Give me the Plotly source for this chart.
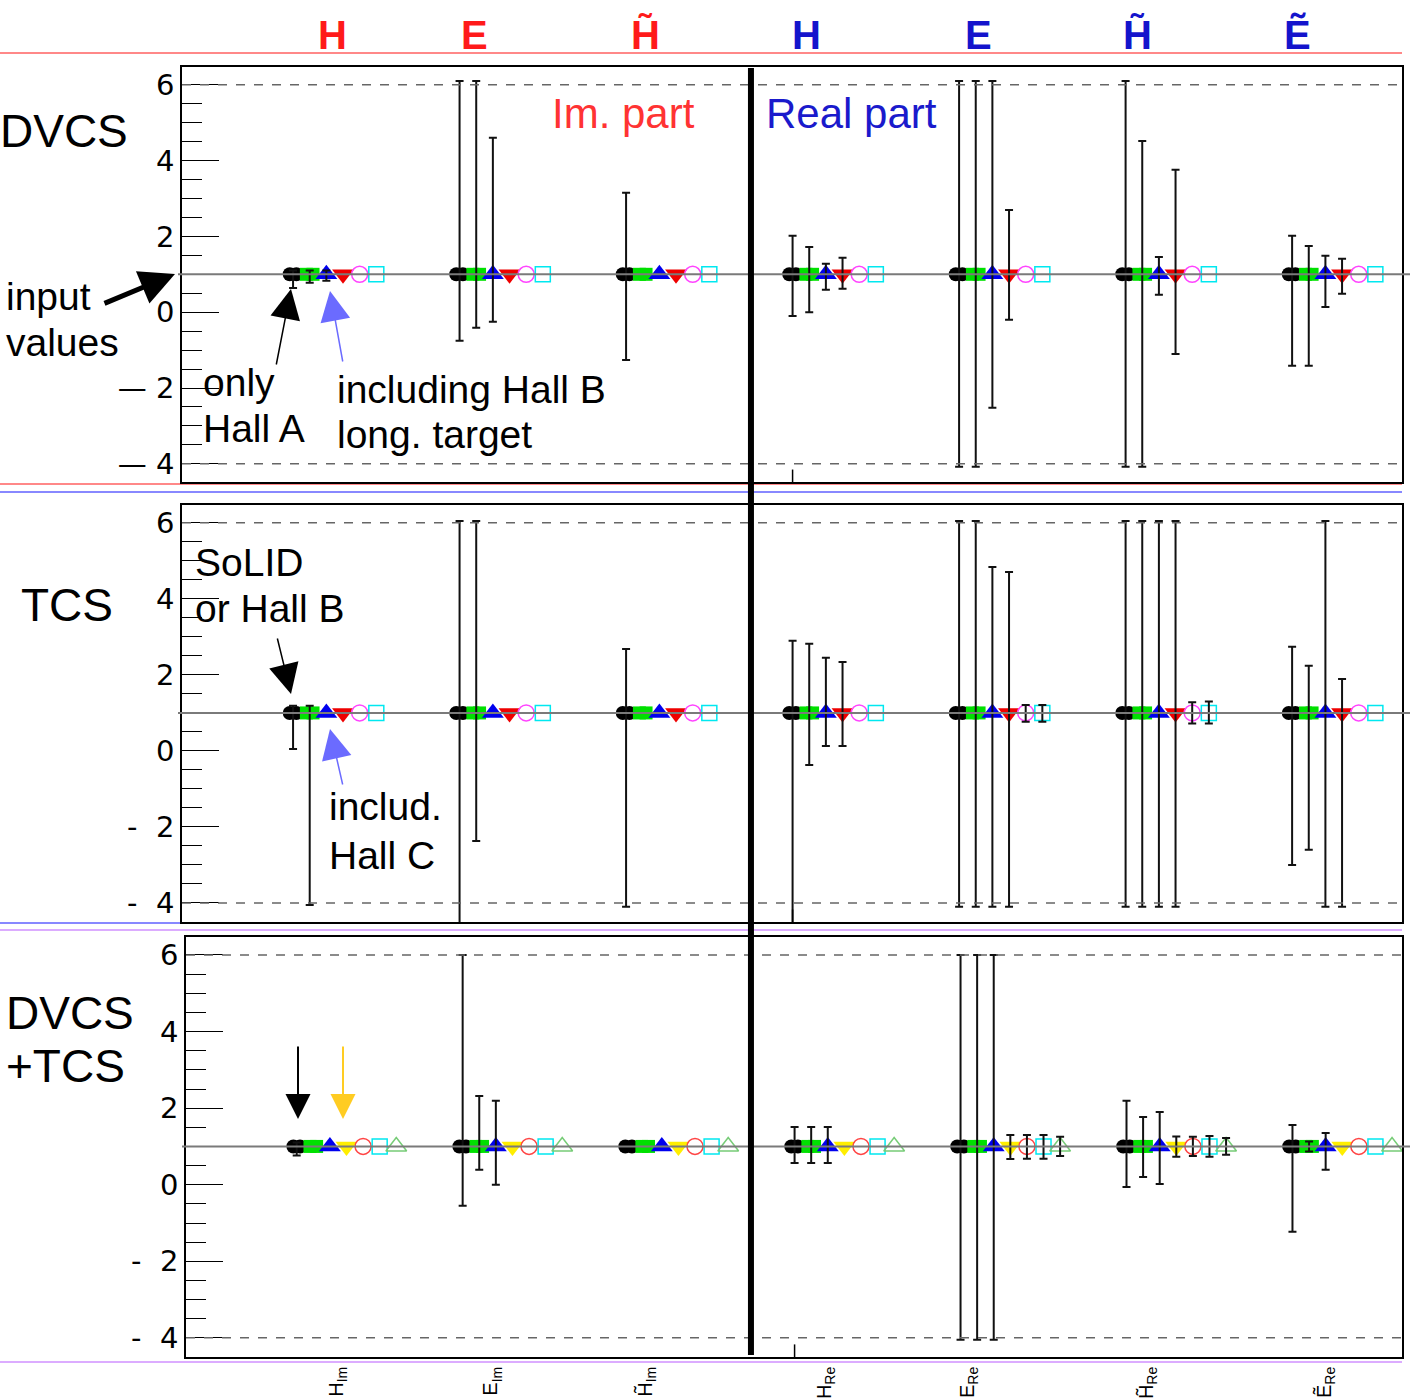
import plotly.graph_objects as go

W, H = 1410, 1398

# ---------------- data ----------------
categories = ["H_Im", "E_Im", "H~_Im", "H_Re", "E_Re", "H~_Re", "E~_Re"]
tick_labels = ["H<sub>Im</sub>", "E<sub>Im</sub>", "H\u0303<sub>Im</sub>",
               "H<sub>Re</sub>", "E<sub>Re</sub>", "H\u0303<sub>Re</sub>", "\u1EBC<sub>Re</sub>"]
tick_positions = [0.24, 1.17, 2.10, 3.18, 4.04, 5.12, 6.19]
input_value = 1.0
fit_center = [1.0, 1.0, 1.0, 1.0, 1.0, 1.0, 1.0]

# DVCS panel: upper / lower errors per category
dvcs_black_up = [0.10, 5.10, 2.15, 1.02, 5.10, 5.10, 1.02]
dvcs_black_dn = [0.36, 1.75, 2.26, 1.10, 5.08, 5.08, 2.41]
dvcs_green_up = [0.10, 5.10, 0.00, 0.72, 5.10, 3.52, 0.75]
dvcs_green_dn = [0.22, 1.41, 0.00, 1.00, 5.08, 5.08, 2.41]
dvcs_blue_up = [0.10, 3.60, 0.00, 0.28, 5.10, 0.46, 0.49]
dvcs_blue_dn = [0.17, 1.25, 0.00, 0.41, 3.52, 0.54, 0.86]
dvcs_red_up = [0.00, 0.00, 0.00, 0.44, 1.70, 2.76, 0.41]
dvcs_red_dn = [0.00, 0.00, 0.00, 0.38, 1.20, 2.10, 0.51]
dvcs_magenta_up = [0, 0, 0, 0, 0, 0, 0]
dvcs_magenta_dn = [0, 0, 0, 0, 0, 0, 0]
dvcs_cyan_up = [0, 0, 0, 0, 0, 0, 0]
dvcs_cyan_dn = [0, 0, 0, 0, 0, 0, 0]

# TCS panel
tcs_black_up = [0.19, 5.05, 1.68, 1.90, 5.05, 5.05, 1.74]
tcs_black_dn = [0.95, 5.60, 5.10, 5.60, 5.10, 5.10, 4.00]
tcs_green_up = [0.19, 5.05, 0.00, 1.82, 5.05, 5.05, 1.24]
tcs_green_dn = [5.05, 3.37, 0.00, 1.37, 5.10, 5.10, 3.60]
tcs_blue_up = [0.00, 0.00, 0.00, 1.45, 3.84, 5.05, 5.05]
tcs_blue_dn = [0.00, 0.00, 0.00, 0.87, 5.10, 5.10, 5.10]
tcs_red_up = [0.00, 0.00, 0.00, 1.34, 3.71, 5.05, 0.89]
tcs_red_dn = [0.00, 0.00, 0.00, 0.87, 5.10, 5.10, 5.10]
tcs_magenta_up = [0, 0, 0, 0, 0.21, 0.28, 0]
tcs_magenta_dn = [0, 0, 0, 0, 0.23, 0.28, 0]
tcs_cyan_up = [0, 0, 0, 0, 0.21, 0.30, 0]
tcs_cyan_dn = [0, 0, 0, 0, 0.23, 0.28, 0]

# DVCS+TCS panel
comb_black_up = [0.10, 5.00, 0.00, 0.51, 5.00, 1.19, 0.56]
comb_black_dn = [0.24, 1.55, 0.00, 0.43, 5.05, 1.06, 2.23]
comb_green_up = [0.00, 1.32, 0.00, 0.51, 5.00, 0.77, 0.13]
comb_green_dn = [0.00, 0.61, 0.00, 0.43, 5.05, 0.80, 0.13]
comb_blue_up = [0.00, 1.19, 0.00, 0.51, 5.00, 0.90, 0.35]
comb_blue_dn = [0.00, 1.00, 0.00, 0.43, 5.05, 0.98, 0.61]
comb_yellow_up = [0, 0, 0, 0, 0.30, 0.26, 0]
comb_yellow_dn = [0, 0, 0, 0, 0.33, 0.27, 0]
comb_ring_up = [0, 0, 0, 0, 0.30, 0.25, 0]
comb_ring_dn = [0, 0, 0, 0, 0.32, 0.25, 0]
comb_cyan_up = [0, 0, 0, 0, 0.30, 0.27, 0]
comb_cyan_dn = [0, 0, 0, 0, 0.32, 0.27, 0]
comb_tri_up = [0, 0, 0, 0, 0.25, 0.22, 0]
comb_tri_dn = [0, 0, 0, 0, 0.25, 0.22, 0]

# ---------------- styles ----------------
# "wide": marker drawn twice, slightly shifted, to get the elongated look
STY = {
    "black": dict(symbol="circle", color="black", size=14, wide=True),
    "green": dict(symbol="square", color="#00e000", size=13, wide=True),
    "blue": dict(symbol="triangle-up", color="#0000ee", size=19),
    "red": dict(symbol="triangle-down", color="#ee0000", size=19),
    "yellow": dict(symbol="triangle-down", color="#ffee00", size=19),
    "magenta": dict(symbol="circle-open", color="#ff44ff", size=16, line=dict(width=1.5, color="#ff44ff")),
    "cyan": dict(symbol="square-open", color="#00e8f0", size=15, line=dict(width=1.5, color="#00e8f0")),
    "ring": dict(symbol="circle-open", color="#ff4444", size=16, line=dict(width=1.5, color="#ff4444")),
    "tri": dict(symbol="triangle-up-open", color="#77cc77", size=18, line=dict(width=1.5, color="#77cc77")),
}

panels = [
    [("black", dvcs_black_up, dvcs_black_dn), ("green", dvcs_green_up, dvcs_green_dn),
     ("blue", dvcs_blue_up, dvcs_blue_dn), ("red", dvcs_red_up, dvcs_red_dn),
     ("magenta", dvcs_magenta_up, dvcs_magenta_dn), ("cyan", dvcs_cyan_up, dvcs_cyan_dn)],
    [("black", tcs_black_up, tcs_black_dn), ("green", tcs_green_up, tcs_green_dn),
     ("blue", tcs_blue_up, tcs_blue_dn), ("red", tcs_red_up, tcs_red_dn),
     ("magenta", tcs_magenta_up, tcs_magenta_dn), ("cyan", tcs_cyan_up, tcs_cyan_dn)],
    [("black", comb_black_up, comb_black_dn), ("green", comb_green_up, comb_green_dn),
     ("blue", comb_blue_up, comb_blue_dn), ("yellow", comb_yellow_up, comb_yellow_dn),
     ("ring", comb_ring_up, comb_ring_dn), ("cyan", comb_cyan_up, comb_cyan_dn),
     ("tri", comb_tri_up, comb_tri_dn)],
]

def px(x):
    return x / W

def py(y):
    return 1 - y / H

panel_px = [  # left, right, top, bottom (pixels) of each frame
    (182, 1402, 67, 482),
    (182, 1402, 505, 922),
    (186, 1402, 937, 1357),
]
yranges = [[-4.48, 6.47], [-4.5, 6.47], [-4.5, 6.47]]
xrange_ = [-0.667, 6.66]
STEP = 0.1
WIDEN = 0.02

fig = go.Figure()

for p, series in enumerate(panels):
    xa = "x" if p == 0 else f"x{p+1}"
    ya = "y" if p == 0 else f"y{p+1}"
    for k, (name, up, dn) in enumerate(series):
        xs = [i + STEP * k for i in range(len(categories))]
        st = STY[name]
        mk = dict(symbol=st["symbol"], color=st["color"], size=st["size"])
        mk["line"] = st.get("line", dict(width=0))
        shifts = [-WIDEN, WIDEN] if st.get("wide") else [0.0]
        for s in shifts:
            fig.add_trace(go.Scatter(
                x=[x + s for x in xs], y=fit_center, mode="markers", marker=mk,
                xaxis=xa, yaxis=ya, showlegend=False, name=name, hoverinfo="skip"))
        # error bars only where present
        idx = [i for i in range(len(categories)) if up[i] + dn[i] > 0]
        if idx:
            fig.add_trace(go.Scatter(
                x=[xs[i] for i in idx], y=[fit_center[i] for i in idx],
                mode="markers", marker=dict(size=1, opacity=0),
                error_y=dict(type="data", symmetric=False,
                             array=[up[i] for i in idx], arrayminus=[dn[i] for i in idx],
                             color="#111111", thickness=2, width=4),
                xaxis=xa, yaxis=ya, showlegend=False, hoverinfo="skip"))

layout = dict(width=W, height=H, margin=dict(l=0, r=0, t=0, b=0, autoexpand=False),
              paper_bgcolor="white", plot_bgcolor="white", autosize=False,
              font=dict(family="Liberation Sans", color="black"))

for p, (l, r, t, b) in enumerate(panel_px):
    xk = "xaxis" if p == 0 else f"xaxis{p+1}"
    yk = "yaxis" if p == 0 else f"yaxis{p+1}"
    ya = "y" if p == 0 else f"y{p+1}"
    xa = "x" if p == 0 else f"x{p+1}"
    last = (p == 2)
    layout[xk] = dict(domain=[px(l), px(r)], range=xrange_, anchor=ya, automargin=False,
                      showgrid=False, zeroline=False, showline=True, mirror=True,
                      linecolor="black", linewidth=1.5, ticks="",
                      tickmode="array", tickvals=tick_positions if last else [],
                      ticktext=tick_labels if last else [],
                      showticklabels=last, tickangle=-90,
                      tickfont=dict(family="Liberation Sans", size=20, color="black"))
    dash = "— " if p == 0 else "-  "
    layout[yk] = dict(domain=[py(b), py(t)], range=yranges[p], anchor=xa, automargin=False,
                      showgrid=False, zeroline=False, showline=True, mirror=True,
                      linecolor="black", linewidth=1.5,
                      ticks="inside", ticklen=37, tickwidth=1.2, tickcolor="black",
                      tickmode="array", tickvals=[-4, -2, 0, 2, 4, 6],
                      ticktext=[dash + "4", dash + "2", "0", "2", "4", "6"],
                      tickfont=dict(family="DejaVu Sans", size=29, color="black"),
                      minor=dict(ticks="inside", ticklen=20, tickwidth=1.2,
                                 tickcolor="black", dtick=0.5, tick0=0, showgrid=False))

shapes = []
# pad borders (horizontal edges)
for (y0, y1, col) in [(53, 484, "#ff6060"), (492, 923, "#6060ff"), (930, 1362, "#d090ff")]:
    for yy in (y0, y1):
        shapes.append(dict(type="line", xref="paper", yref="paper", x0=0, x1=px(1402),
                           y0=py(yy), y1=py(yy), line=dict(color=col, width=1.5), layer="below"))
for p, (l, r, t, b) in enumerate(panel_px):
    ya = "y" if p == 0 else f"y{p+1}"
    xa = "x" if p == 0 else f"x{p+1}"
    for yv in (6, -4):
        shapes.append(dict(type="line", xref=f"{xa} domain", yref=ya, x0=0, x1=1,
                           y0=yv, y1=yv, line=dict(color="#666666", width=1.5, dash="dash")))
    shapes.append(dict(type="line", xref="paper", yref=ya, x0=px(l - 4), x1=1,
                       y0=input_value, y1=input_value,
                       line=dict(color="#7a7a7a", width=2), layer="above"))
    shapes.append(dict(type="line", xref=xa, yref=f"{ya} domain", x0=3, x1=3,
                       y0=0, y1=0.03, line=dict(color="black", width=1.5)))
# separator between imaginary and real parts
shapes.append(dict(type="line", xref="x", yref="paper", x0=2.75, x1=2.75,
                   y0=py(1355), y1=py(68), line=dict(color="black", width=6)))
layout["shapes"] = shapes

ann = []

def txt(s, x, y, size, color="black", xanchor="left"):
    ann.append(dict(text=s, x=px(x), y=py(y), xref="paper", yref="paper",
                    xanchor=xanchor, yanchor="middle", showarrow=False,
                    font=dict(family="Liberation Sans", size=size, color=color)))

def arrow(tx, ty, sx, sy, color, width, size):
    ann.append(dict(text="", x=px(tx), y=py(ty), xref="paper", yref="paper",
                    ax=sx - tx, ay=sy - ty, axref="pixel", ayref="pixel",
                    showarrow=True, arrowhead=2, arrowwidth=width, arrowsize=size,
                    arrowcolor=color, standoff=0))

RED, BLUE = "#ff1a1a", "#1414cc"
for s, x in [("H", 332), ("E", 474), ("H\u0303", 645)]:
    txt("<b>" + s + "</b>", x, 35, 40, RED, "center")
for s, x in [("H", 806), ("E", 978), ("H\u0303", 1137), ("\u1EBC", 1297)]:
    txt("<b>" + s + "</b>", x, 35, 40, BLUE, "center")

txt("DVCS", -2, 131, 46)
txt("TCS", 19, 605, 46)
txt("DVCS", 4, 1013, 46)
txt("+TCS", 4, 1066, 46)
txt("Im. part", 550, 113, 42, "#ff3333")
txt("Real part", 764, 113, 42, "#1a1acc")
txt("input", 4, 297, 39)
txt("values", 4, 342, 39)
txt("only", 201, 382, 39)
txt("Hall A", 201, 428, 39)
txt("including Hall B", 335, 390, 39)
txt("long. target", 335, 435, 39)
txt("SoLID", 193, 563, 39)
txt("or Hall B", 193, 608, 39)
txt("includ.", 327, 806, 39)
txt("Hall C", 327, 855, 39)

arrow(175, 274, 103, 304, "black", 5, 1.4)
arrow(291, 289, 276, 366, "black", 1.5, 4)
arrow(330, 291, 343, 363, "#6b6bff", 1.5, 4)
arrow(291, 694, 277, 637, "black", 1.5, 4)
arrow(330, 729, 343, 786, "#6b6bff", 1.5, 4)
arrow(298, 1119, 298, 1045, "black", 2, 2.5)
arrow(343, 1119, 343, 1045, "#ffcc22", 2, 2.5)
layout["annotations"] = ann

fig.update_layout(**layout)
fig.write_html("out.html")
